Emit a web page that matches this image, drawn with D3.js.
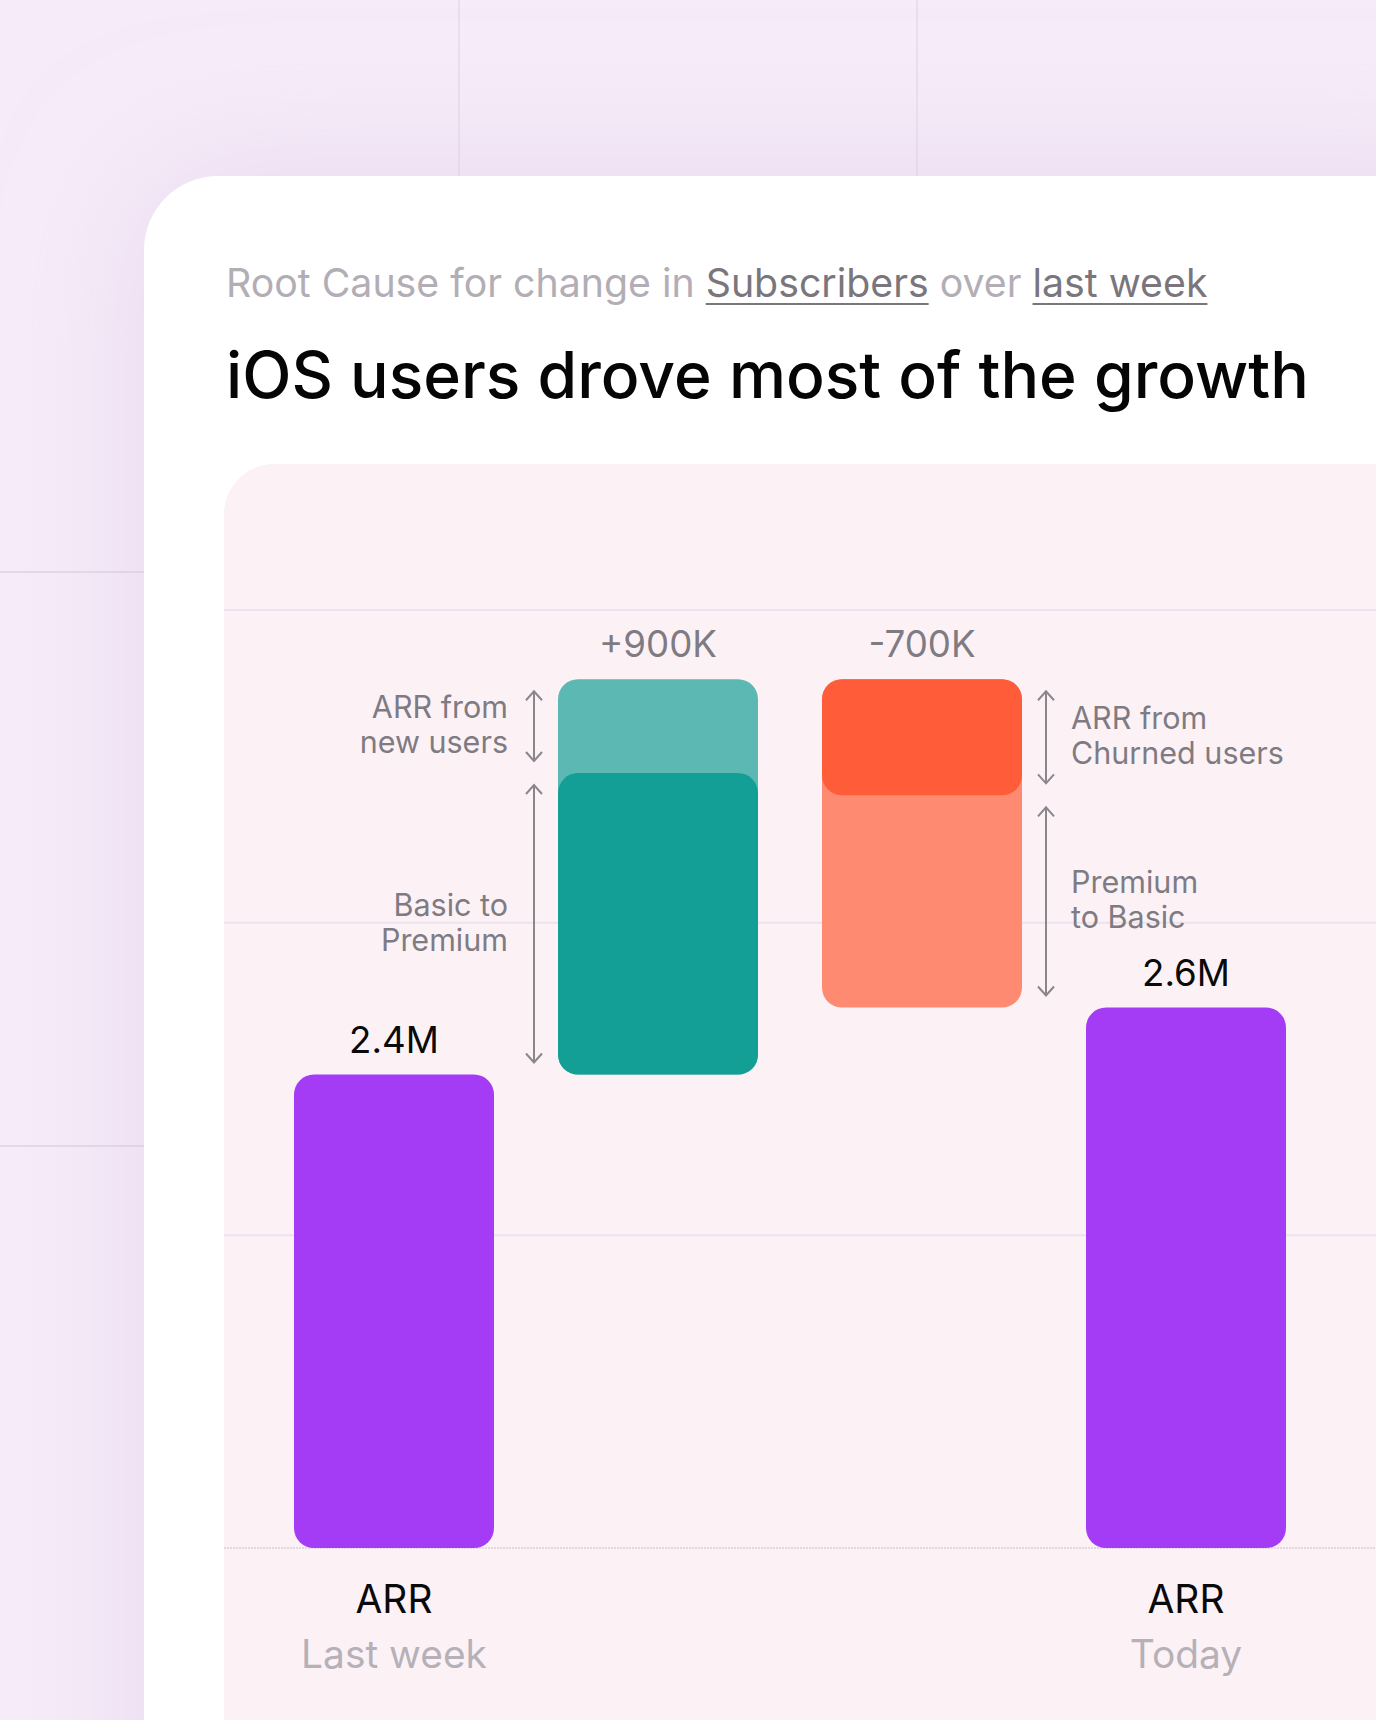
<!DOCTYPE html>
<html>
<head>
<meta charset="utf-8">
<script src="https://cdn.jsdelivr.net/npm/d3@7"></script>
<style>
  html, body { margin: 0; padding: 0; background: #f6ecf9; }
  svg { display: block; font-family: Inter, "Noto Sans", sans-serif; }
</style>
</head>
<body>
<svg id="chart"></svg>
<script>
// Data
var steps = ["start", "gain", "loss", "end"];
var valueLabels = ["2.4M", "+900K", "-700K", "2.6M"];
var axisTitles = ["ARR", "", "", "ARR"];
var axisSubtitles = ["Last week", "", "", "Today"];
var startValue = 2.44;
var endValue = 2.59;
var gainParts = [0.675, 0.21];     // basic to premium, new users (bottom up)
var lossParts = [0.26, 0.475];     // churned users, premium to basic (top down)
var gainNotes = [["Basic to", "Premium"], ["ARR from", "new users"]];
var lossNotes = [["ARR from", "Churned users"], ["Premium", "to Basic"]];
var gridValues = [1.38, 2.08, 2.78, 3.48];
var subtitleParts = [
    { text: "Root Cause for change in ", link: false },
    { text: "Subscribers", link: true },
    { text: " over ", link: false },
    { text: "last week", link: true }
];
var titleText = "iOS users drove most of the growth";

// Dimensions
var width = 1376;
var height = 1720;

var colors = {
    arr: "#a43cf5",
    gainLight: "#5bb8b3",
    gainDark: "#139f96",
    lossDark: "#ff5c3a",
    lossLight: "#ff8a72",
    note: "#7f7b82",
    faint: "#b3adb5"
};

var svg = d3.select("#chart")
    .attr("width", width)
    .attr("height", height);

// Background
var defs = svg.append("defs");
var shadow = defs.append("filter")
    .attr("id", "card-glow")
    .attr("x", -0.3).attr("y", -0.3)
    .attr("width", 1.6).attr("height", 1.6);
shadow.append("feDropShadow")
    .attr("dx", 0).attr("dy", 0)
    .attr("stdDeviation", 70)
    .attr("flood-color", "#dcc6e3")
    .attr("flood-opacity", 0.55);

svg.append("rect")
    .attr("width", width)
    .attr("height", height)
    .attr("fill", "#f6ecf9");

// faint page grid behind the card
[459, 917].forEach(function(x) {
    svg.append("line")
        .attr("x1", x).attr("x2", x)
        .attr("y1", 0).attr("y2", 176)
        .attr("stroke", "#ddd3e0")
        .attr("stroke-width", 1);
});
[572, 1146].forEach(function(y) {
    svg.append("line")
        .attr("x1", 0).attr("x2", 144)
        .attr("y1", y).attr("y2", y)
        .attr("stroke", "#cfc6d2")
        .attr("stroke-width", 1);
});

// Card
svg.append("rect")
    .attr("x", 144).attr("y", 176)
    .attr("width", width).attr("height", height)
    .attr("rx", 74)
    .attr("fill", "#ffffff")
    .attr("filter", "url(#card-glow)");

function fitWidth(sel, target) {
    sel.attr("font-size", 100);
    var w = sel.node().getComputedTextLength();
    var fs = 100 * target / w;
    sel.attr("font-size", fs);
    return fs;
}

// Subtitle
var subtitle = svg.append("text")
    .attr("x", 226)
    .attr("y", 297);

var subSpans = subtitle.selectAll("tspan")
    .data(subtitleParts)
    .enter().append("tspan")
    .attr("fill", function(d) { return d.link ? "#7a767c" : colors.faint; })
    .text(function(d) { return d.text; });

fitWidth(subtitle, 982);

subSpans.each(function(d) {
    if (!d.link) return;
    var x0 = this.getStartPositionOfChar(0).x;
    var w = this.getComputedTextLength();
    svg.append("line")
        .attr("x1", x0).attr("x2", x0 + w)
        .attr("y1", 304).attr("y2", 304)
        .attr("stroke", "#7a767c")
        .attr("stroke-width", 2);
});

// Title
var title = svg.append("text")
    .attr("x", 226)
    .attr("y", 398)
    .attr("fill", "#050505")
    .attr("font-weight", 500)
    .text(titleText);
fitWidth(title, 1083);

// Chart panel
svg.append("rect")
    .attr("x", 224).attr("y", 464)
    .attr("width", width).attr("height", height)
    .attr("rx", 50)
    .attr("fill", "#fcf2f6");

// Scales
var x = d3.scaleBand()
    .domain(steps)
    .range([262, 1318])
    .paddingInner(0.2424)
    .paddingOuter(0.1212);

var y = d3.scaleLinear()
    .domain([gridValues[0], gridValues[gridValues.length - 1]])
    .range([1548, 610]);

var base = gridValues[0];

// Grid
svg.append("g")
    .attr("class", "grid")
    .selectAll("line")
    .data(gridValues)
    .enter().append("line")
    .attr("x1", 224).attr("x2", width)
    .attr("y1", function(d) { return y(d); })
    .attr("y2", function(d) { return y(d); })
    .attr("stroke", function(d, i) { return i == 0 ? "#d9d0dc" : "#ede2f0"; })
    .attr("stroke-width", function(d, i) { return i == 0 ? 1.5 : 2; })
    .attr("stroke-dasharray", function(d, i) { return i == 0 ? "2 1" : null; });

// Waterfall segments
var gainTop = startValue + d3.sum(gainParts);
var lossBottom = gainTop - d3.sum(lossParts);

var segments = [
    { step: "start", lo: base, hi: startValue, fill: colors.arr },
    { step: "gain", lo: startValue, hi: gainTop, fill: colors.gainLight },
    { step: "gain", lo: startValue, hi: startValue + gainParts[0], fill: colors.gainDark },
    { step: "loss", lo: lossBottom, hi: gainTop, fill: colors.lossLight },
    { step: "loss", lo: gainTop - lossParts[0], hi: gainTop, fill: colors.lossDark },
    { step: "end", lo: base, hi: endValue, fill: colors.arr }
];

svg.append("g")
    .attr("class", "bars")
    .selectAll("rect")
    .data(segments)
    .enter().append("rect")
    .attr("x", function(d) { return x(d.step); })
    .attr("y", function(d) { return y(d.hi); })
    .attr("width", x.bandwidth())
    .attr("height", function(d) { return y(d.lo) - y(d.hi); })
    .attr("rx", 20)
    .attr("fill", function(d) { return d.fill; });

// Value labels
var barTops = [startValue, gainTop, gainTop, endValue];

var valueText = svg.append("g")
    .attr("class", "value-labels")
    .selectAll("text")
    .data(steps)
    .enter().append("text")
    .attr("x", function(d) { return x(d) + x.bandwidth() / 2; })
    .attr("y", function(d, i) { return y(barTops[i]) - 22; })
    .attr("text-anchor", "middle")
    .attr("fill", function(d, i) { return (i == 1 || i == 2) ? colors.note : "#0a0a0a"; })
    .text(function(d, i) { return valueLabels[i]; });

var valueSize = fitWidth(d3.select(valueText.nodes()[1]), 118);
valueText.attr("font-size", valueSize);

// Axis labels
var axisG = svg.append("g").attr("class", "axis-labels");

var arrText = axisG.selectAll(".arr")
    .data(steps)
    .enter().append("text")
    .attr("class", "arr")
    .attr("x", function(d) { return x(d) + x.bandwidth() / 2; })
    .attr("y", y(base) + 65)
    .attr("text-anchor", "middle")
    .attr("fill", "#0a0a0a")
    .text(function(d, i) { return axisTitles[i]; });

var subText = axisG.selectAll(".sub")
    .data(steps)
    .enter().append("text")
    .attr("class", "sub")
    .attr("x", function(d) { return x(d) + x.bandwidth() / 2; })
    .attr("y", y(base) + 120)
    .attr("text-anchor", "middle")
    .attr("fill", "#b6b1b8")
    .text(function(d, i) { return axisSubtitles[i]; });

var axisSize = fitWidth(d3.select(subText.nodes()[0]), 186);
subText.attr("font-size", axisSize);
arrText.attr("font-size", axisSize);

// Annotations
var notes = [
    { step: "gain", side: "left", lo: startValue + gainParts[0], hi: gainTop, lines: gainNotes[1] },
    { step: "gain", side: "left", lo: startValue, hi: startValue + gainParts[0], lines: gainNotes[0] },
    { step: "loss", side: "right", lo: gainTop - lossParts[0], hi: gainTop, lines: lossNotes[0] },
    { step: "loss", side: "right", lo: lossBottom, hi: gainTop - lossParts[0], lines: lossNotes[1] }
];

var noteG = svg.append("g")
    .attr("class", "notes")
    .selectAll("g")
    .data(notes)
    .enter().append("g");

function arrowX(d) {
    return d.side == "left" ? x(d.step) - 24 : x(d.step) + x.bandwidth() + 24;
}

noteG.append("path")
    .attr("fill", "none")
    .attr("stroke", "#8a868c")
    .attr("stroke-width", 2)
    .attr("d", function(d) {
        var ax = arrowX(d);
        var y1 = y(d.hi) + 12;
        var y2 = y(d.lo) - 12;
        return "M" + ax + "," + y1 + "L" + ax + "," + y2 +
            "M" + (ax - 8) + "," + (y1 + 9) + "L" + ax + "," + y1 + "L" + (ax + 8) + "," + (y1 + 9) +
            "M" + (ax - 8) + "," + (y2 - 9) + "L" + ax + "," + y2 + "L" + (ax + 8) + "," + (y2 - 9);
    });

var noteText = noteG.append("text")
    .attr("fill", colors.note)
    .attr("text-anchor", function(d) { return d.side == "left" ? "end" : "start"; })
    .attr("transform", function(d) {
        var tx = d.side == "left" ? arrowX(d) - 26 : arrowX(d) + 25;
        var mid = (y(d.hi) + y(d.lo)) / 2;
        return "translate(" + tx + "," + mid + ")";
    });

noteText.selectAll("tspan")
    .data(function(d) { return d.lines; })
    .enter().append("tspan")
    .attr("x", 0)
    .attr("y", function(d, i) { return i == 0 ? -8 : 27; })
    .text(function(d) { return d; });

// size all notes from the widest line
var probe = svg.append("text").text(lossNotes[0][1]);
var noteSize = fitWidth(probe, 213);
probe.remove();
noteText.attr("font-size", noteSize);
</script>
</body>
</html>
